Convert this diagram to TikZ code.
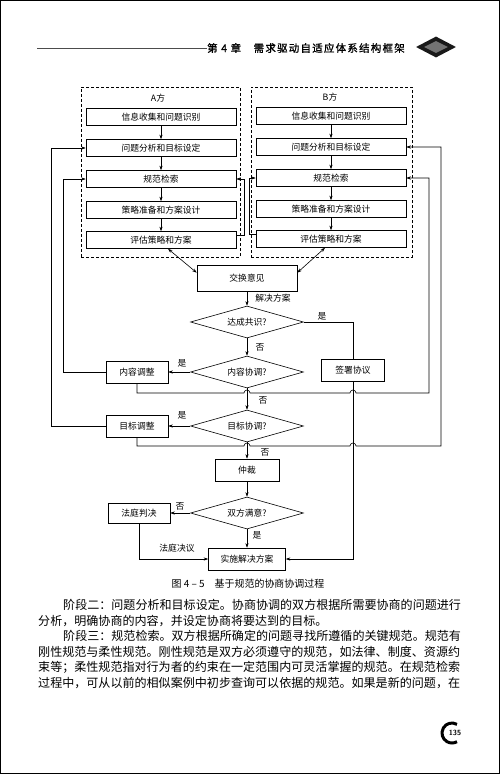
\documentclass[tikz,border=0pt]{standalone}
\usepackage{fontspec}
\setmainfont{Liberation Serif}
\newfontfamily\cjk{Noto Sans CJK SC}
\newfontfamily\cjkhead[LetterSpace=12,FakeBold=1.2]{Noto Sans CJK SC}
\usetikzlibrary{shapes.geometric,arrows.meta}
\begin{document}
\begin{tikzpicture}[x=1bp,y=-1bp]
\tikzset{
  box/.style={draw, line width=0.6bp, inner sep=0pt, minimum width=150bp, minimum height=17bp, font=\cjk\fontsize{8.8}{10}\selectfont},
  sbox/.style={box, minimum width=62bp, minimum height=22bp},
  dia/.style={draw, diamond, line width=0.6bp, inner sep=0pt, aspect=3.5, minimum width=113bp, minimum height=32bp, font=\cjk\fontsize{8.8}{10}\selectfont},
  lbl/.style={inner sep=0pt, font=\cjk\fontsize{8.8}{10}\selectfont},
  conn/.style={line width=0.6bp},
  arr/.style={conn, -{Stealth[length=4.5bp,width=3.2bp]}},
  darr/.style={conn, {Stealth[length=4.5bp,width=3.2bp]}-{Stealth[length=4.5bp,width=3.2bp]}},
  frame/.style={draw, line width=0.6bp, dash pattern=on 3bp off 2bp, inner sep=0pt},
  body/.style={anchor=west, inner sep=0pt, font=\cjk\fontsize{12.1}{14}\selectfont},
}
\useasboundingbox (0,0) rectangle (500,774);
\draw[line width=1bp] (0.5,0.5) rectangle (499.5,773.5);

% header
\node[anchor=west, inner sep=0pt, font=\cjkhead\fontsize{10.5}{12}\selectfont] (hd) at (207,48) {第 4 章\hspace{1.2em}需求驱动自适应体系结构框架};
\draw[line width=0.5bp, black!70] (37,48) -- (hd.west);
\node[diamond, fill=black!90, minimum width=40bp, minimum height=21bp, inner sep=0pt] (orn) at (436,47) {};
\node[diamond, fill=black!55, minimum width=24bp, minimum height=12bp, inner sep=0pt] (orn2) at (436,47) {};

% dashed frames
\node[frame, minimum width=159bp, minimum height=170bp] (fa) at (160.5,172) {};
\node[frame, minimum width=161bp, minimum height=170bp] (fb) at (331.5,172) {};
\node[lbl] (la) at (158,98) {A方};
\node[lbl] (lb) at (330,97) {B方};

% A side
\node[box] (a1) at (161,117) {信息收集和问题识别};
\node[box] (a2) at (161,148) {问题分析和目标设定};
\node[box] (a3) at (161,179) {规范检索};
\node[box] (a4) at (161,210) {策略准备和方案设计};
\node[box] (a5) at (161,240) {评估策略和方案};
% B side
\node[box] (b1) at (331,116) {信息收集和问题识别};
\node[box] (b2) at (331,147) {问题分析和目标设定};
\node[box] (b3) at (331,178) {规范检索};
\node[box] (b4) at (331,209) {策略准备和方案设计};
\node[box] (b5) at (331,239) {评估策略和方案};

\foreach \s in {a,b}{
  \draw[arr] (\s1) -- (\s2);
  \draw[arr] (\s2) -- (\s3);
  \draw[arr] (\s3) -- (\s4);
  \draw[arr] (\s4) -- (\s5);
}
\draw[arr] ([yshift=5bp]a5.east) -- ++(8,0) |- (a3.east);
\draw[arr] ([yshift=5bp]b5.west) -- ++(-6,0) |- (b3.west);

% middle flow
\node[box, minimum width=100bp, minimum height=26bp] (ex) at (247,278) {交换意见};
\node[dia] (d1) at (247,322) {达成共识?};
\node[dia] (d2) at (247,372) {内容协调?};
\node[dia] (d3) at (247,426) {目标协调?};
\node[box, minimum width=64bp, minimum height=22bp] (arb) at (247,470) {仲裁};
\node[dia] (d4) at (247,513) {双方满意?};
\node[box, minimum width=77bp, minimum height=22bp] (impl) at (247,559) {实施解决方案};
\node[sbox] (kadj) at (137,372) {内容调整};
\node[sbox] (gadj) at (137,426) {目标调整};
\node[sbox, minimum height=20bp] (court) at (139,513) {法庭判决};
\node[sbox, minimum width=63bp] (sign) at (353,370) {签署协议};

\draw[darr] ([xshift=7bp]a5.south) -- ([yshift=-8bp]ex.north west);
\draw[darr] ([xshift=-6bp]b5.south) -- ([yshift=-8bp]ex.north east);

\draw[arr] (ex) -- (d1);
\draw[arr] (d1) -- (d2);
\draw[arr] (d2) -- (d3);
\draw[arr] (d3) -- (arb);
\draw[arr] (arb) -- (d4);
\draw[arr] (d4) -- (impl);

\draw[conn] (d1.east) -| (sign.north);
\draw[arr] (sign.south) |- (impl.east);
\draw[arr] (d2.west) -- (kadj.east);
\draw[arr] (d3.west) -- (gadj.east);
\draw[arr] (d4.west) -- (court.east);
\draw[arr] (court.south) |- (impl.west);

\draw[arr] (kadj.west) -- ++(-42,0) |- (a3.west);
\draw[arr] (gadj.west) -- ++(-54,0) |- (a2.west);
\draw[arr] (kadj.south) |- (244,393) arc(180:360:3) -- (350,393) arc(180:360:3) -- (429,393) |- (b3.east);
\draw[arr] (gadj.south) |- (244,446) arc(180:360:3) -- (350,446) arc(180:360:3) -- (441,446) |- (b2.east);

% labels
\node[lbl] (t1) at (273,298) {解决方案};
\node[lbl] (t2) at (322,316) {是};
\node[lbl] (t3) at (260,347) {否};
\node[lbl] (t4) at (182,363) {是};
\node[lbl] (t5) at (263,400) {否};
\node[lbl] (t6) at (182,415) {是};
\node[lbl] (t7) at (265,452) {否};
\node[lbl] (t8) at (180,506) {否};
\node[lbl] (t9) at (257,535) {是};
\node[lbl] (t10) at (177,548) {法庭决议};

% caption
\node[inner sep=0pt, font=\cjk\fontsize{10}{12}\selectfont] (cap) at (248,584) {图 4 – 5\hspace{1em}基于规范的协商协调过程};

% body text
\node[body] (p1) at (63,605) {阶段二：问题分析和目标设定。协商协调的双方根据所需要协商的问题进行};
\node[body] (p2) at (38,621) {分析，明确协商的内容，并设定协商将要达到的目标。};
\node[body] (p3) at (63,636) {阶段三：规范检索。双方根据所确定的问题寻找所遵循的关键规范。规范有};
\node[body] (p4) at (38,652) {刚性规范与柔性规范。刚性规范是双方必须遵守的规范，如法律、制度、资源约};
\node[body] (p5) at (38,667) {束等；柔性规范指对行为者的约束在一定范围内可灵活掌握的规范。在规范检索};
\node[body] (p6) at (38,683) {过程中，可从以前的相似案例中初步查询可以依据的规范。如果是新的问题，在};

% page number
\node[inner sep=0pt, font=\sffamily\bfseries\fontsize{7.5}{8}\selectfont] (pn) at (455,733) {135};
\draw[line width=3bp] (452,733) ++(60:10bp) arc(60:300:10bp);
\end{tikzpicture}
\end{document}
